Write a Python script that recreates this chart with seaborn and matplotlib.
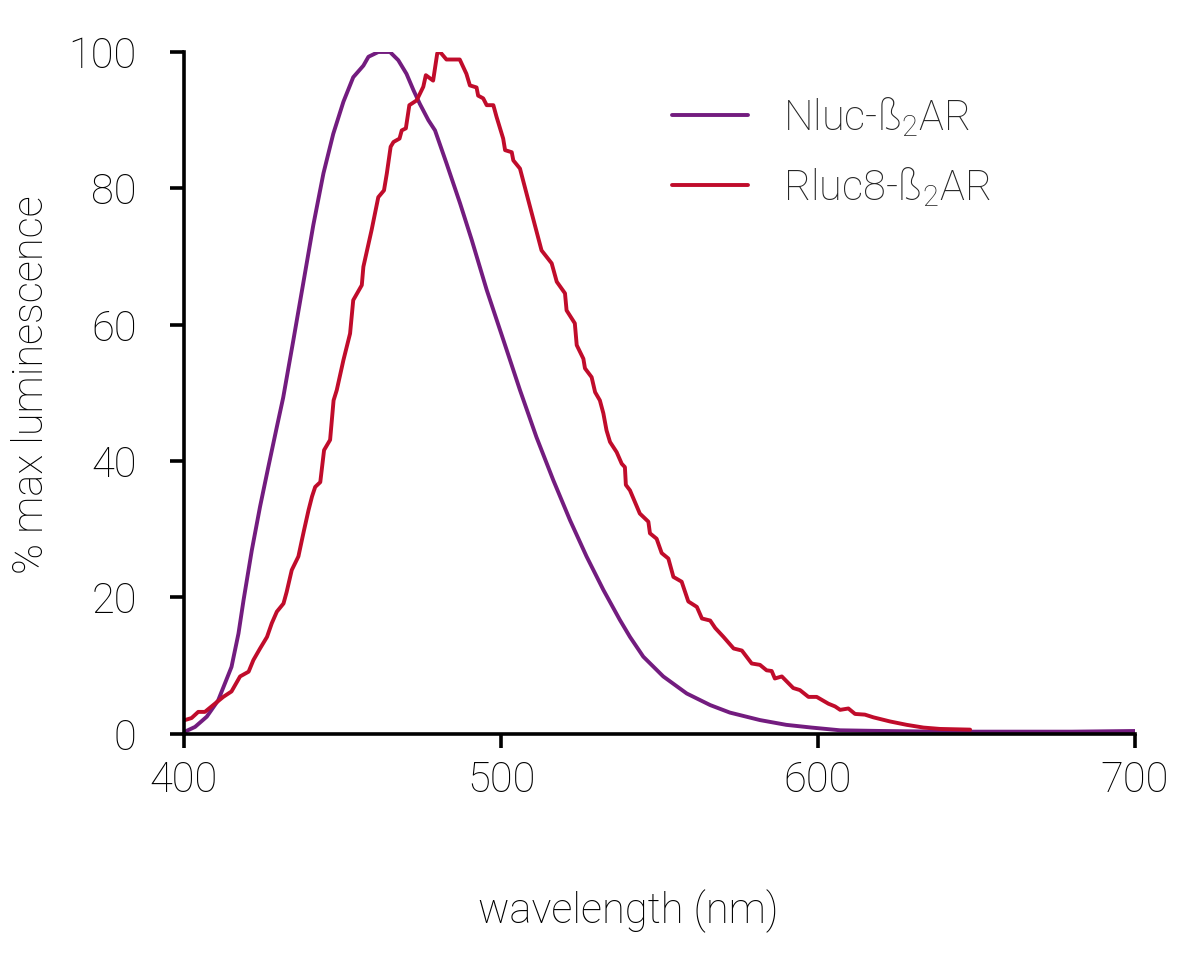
import numpy as np
import pandas as pd
import matplotlib
matplotlib.use('Agg')
import matplotlib.pyplot as plt
import seaborn as sns

# values
nluc_nm = [400.3, 403.5, 407.2, 410.8, 415, 417.2, 418.8, 421.4, 424, 426.6, 429.3, 431.3,
           434.5, 437.6, 440.8, 444, 447.1, 450.3, 453.4, 456.6, 458.2, 461.3, 465, 467.6,
           470.2, 472.4, 474.4, 477.1, 479.2, 482.8, 487.1, 490.8, 495.5, 500.8, 506, 511.2,
           516.5, 521.8, 527, 532.3, 537.5, 540.7, 544.9, 551.2, 558.6, 566, 572.2, 581.7,
           590, 598, 607, 620, 640, 660, 680, 700]
nluc_pct = [0.3, 1.0, 2.5, 4.9, 9.8, 14.7, 19.6, 26.9, 33.3, 39.1, 45.0, 49.3,
            57.7, 66.0, 74.6, 82.2, 88.0, 92.7, 96.3, 98.0, 99.3, 100, 100, 98.8,
            96.8, 94.4, 92.4, 90.0, 88.5, 83.7, 77.8, 72.4, 65.1, 57.7, 50.4, 43.5,
            37.2, 31.3, 26.0, 21.1, 16.7, 14.2, 11.3, 8.4, 5.9, 4.2, 3.1, 2.0,
            1.3, 0.9, 0.5, 0.4, 0.3, 0.3, 0.3, 0.4]

rluc_nm = [400.3, 402.4, 404.5, 406.6, 408.7, 412.4, 415, 417.7, 420.4, 421.9, 424, 426.2,
           427.7, 429.3, 431.4, 432.4, 434, 436.1, 437.2, 437.9, 439.3, 440.4, 441.4, 443,
           444.2, 446.1, 447.2, 448.2, 450.3, 452.4, 453.4, 456.1, 456.6, 459.2, 461.3, 463.1,
           464, 465.2, 466.1, 468, 468.7, 470, 471.1, 473.4, 475.5, 476.3, 478.6, 479.9,
           480.8, 482.8, 487, 489.1, 490.2, 492.3, 492.8, 494.4, 495.5, 497.6, 498.6, 500.7,
           501.3, 503.4, 503.9, 506, 508.6, 512.8, 516, 517.6, 520.2, 520.7, 523.3, 523.9,
           526, 526.5, 528.6, 529.7, 531.2, 532.3, 533.3, 534.4, 536.5, 538.1, 539.1, 539.4,
           540.7, 543.8, 546.5, 547, 549.1, 550.7, 552.8, 554.4, 557, 559.1, 561.8, 563.4,
           566, 567.6, 570.2, 573.4, 576, 579.1, 581.7, 583.8, 585.4, 586.4, 588.6, 592.2,
           594.3, 597, 599.6, 603.3, 605.4, 607, 609.6, 611.7, 614.8, 617.5, 622.7, 628,
           633.3, 638.5, 648]
rluc_pct = [2.0, 2.3, 3.2, 3.2, 4.0, 5.4, 6.2, 8.4, 9.1, 10.8, 12.5, 14.2,
            16.2, 17.9, 19.1, 20.8, 24, 26, 28.4, 29.9, 32.8, 34.8, 36.2, 36.9,
            41.6, 43.1, 48.9, 50.4, 54.8, 58.7, 63.6, 65.8, 68.5, 73.9, 78.7, 79.7,
            82.2, 86.1, 86.8, 87.3, 88.5, 88.8, 92.2, 92.9, 94.9, 96.6, 95.8, 99.8,
            100, 98.9, 98.9, 96.8, 95.1, 94.8, 93.6, 93.2, 92.2, 92.2, 90.5, 87.3,
            85.6, 85.3, 84.1, 82.9, 78.3, 70.9, 69, 66.3, 64.6, 62.1, 60.2, 57,
            55, 53.6, 52.3, 50.1, 48.9, 47, 44.5, 42.8, 41.3, 39.6, 39.1, 36.5,
            35.7, 32.3, 31.1, 29.4, 28.6, 26.5, 25.7, 23.0, 22.3, 19.4, 18.6, 16.9,
            16.6, 15.5, 14.2, 12.5, 12.2, 10.3, 10.1, 9.3, 9.2, 8.1, 8.4, 6.7,
            6.4, 5.4, 5.4, 4.4, 4.0, 3.5, 3.7, 2.9, 2.8, 2.4, 1.8, 1.3,
            0.9, 0.7, 0.6]

labels = ['Nluc-ß$_\\mathregular{2}$AR', 'Rluc8-ß$_\\mathregular{2}$AR']
colors = ['#731c7f', '#c00c2b']

df = pd.concat([
    pd.DataFrame({'wavelength': nluc_nm, 'lum': nluc_pct, 'construct': labels[0]}),
    pd.DataFrame({'wavelength': rluc_nm, 'lum': rluc_pct, 'construct': labels[1]}),
])

sns.set_theme(style='ticks')
plt.rcParams['font.family'] = ['Roboto', 'DejaVu Sans']
plt.rcParams['font.weight'] = 'light'
plt.rcParams['axes.labelweight'] = 'light'
plt.rcParams['mathtext.default'] = 'regular'

fig = plt.figure(figsize=(12, 9.63), dpi=100)
ax = fig.add_axes([0.1533, 0.2381, 0.7925, 0.7079])

sns.lineplot(data=df, x='wavelength', y='lum', hue='construct',
             palette=dict(zip(labels, colors)), estimator=None, sort=True,
             linewidth=2.8, ax=ax)

ax.set_xlim(400, 700)
ax.set_ylim(0, 100)
ax.set_xticks([400, 500, 600, 700])
ax.set_yticks([0, 20, 40, 60, 80, 100])
sns.despine(ax=ax)
for s in ['left', 'bottom']:
    ax.spines[s].set_linewidth(2.6)
    ax.spines[s].set_color('black')
ax.tick_params(axis='both', length=10, width=2.6, color='black',
               labelsize=30, labelcolor='black')
ax.tick_params(axis='y', pad=24)
ax.tick_params(axis='x', pad=9)

ax.set_xlabel('wavelength (nm)', fontsize=30, color='black')
ax.set_ylabel('% max luminescence', fontsize=30, color='black')
ax.xaxis.set_label_coords(0.467, -0.228)
ax.yaxis.set_label_coords(-0.139, 0.512)

ax.legend(loc='upper left', bbox_to_anchor=(0.513, 0.937), frameon=False,
          fontsize=30, handlelength=1.83, handletextpad=0.85,
          labelspacing=0.63, borderpad=0, borderaxespad=0)

fig.savefig('out.png', dpi=100)
